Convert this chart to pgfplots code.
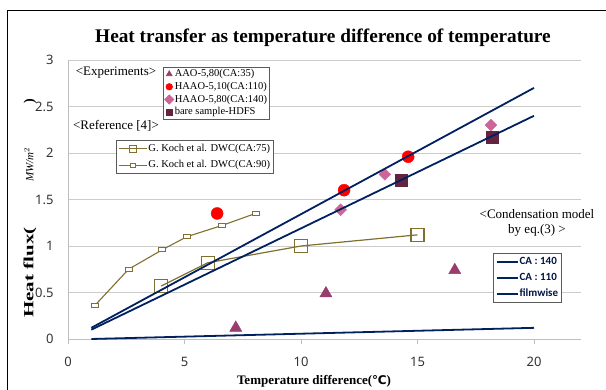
\documentclass[border=0pt]{standalone}
\usepackage{fontspec}
\setmainfont{Liberation Serif}
\newfontfamily\ticksfont{Noto Sans}
\newfontfamily\legsans{Carlito}
\newfontfamily\dejavu{DejaVu Sans}
\usepackage{pgfplots}
\pgfplotsset{compat=1.18}
\definecolor{navy}{RGB}{0,32,96}
\definecolor{olive}{RGB}{128,112,48}
\definecolor{tri}{RGB}{153,60,110}
\definecolor{dia}{RGB}{204,102,153}
\definecolor{sqc}{RGB}{100,35,65}
\definecolor{gridgray}{RGB}{204,204,204}
\definecolor{axisgray}{RGB}{190,190,190}
\definecolor{legframe}{RGB}{90,90,90}
\pgfplotsset{
  base/.style={scale only axis, width=512.6pt, height=279pt, at={(68pt,51pt)}, anchor=south west,
    xmin=0, xmax=22, ymin=0, ymax=3, clip=false},
}
\begin{document}
\begin{tikzpicture}[x=1pt,y=1pt]
\useasboundingbox (0,0) rectangle (606,390);
\draw[black, line width=0.9pt] (7,0) -- (7,380) -- (606,380);
% main axis with experiments
\begin{axis}[base,
  axis x line*=bottom, axis y line*=left,
  axis line style={draw=axisgray, line width=0.8pt},
  xtick={0,5,10,15,20}, ytick={0,0.5,...,3},
  ymajorgrids, grid style={draw=gridgray, line width=0.8pt},
  tick align=outside, major tick length=5pt,
  xtick style={draw=axisgray, line width=0.8pt}, ytick style={draw=none},
  /pgf/number format/assume math mode=true,
  ticklabel style={font=\ticksfont\fontsize{13}{13}\selectfont, text=black!80},
  xticklabel style={yshift=-10pt},
  yticklabel style={xshift=-6pt},
  legend style={at={(0.185,0.975)}, anchor=north west, draw=legframe, line width=0.8pt,
    font=\fontsize{10.5}{11}\selectfont, row sep=1.2pt, inner xsep=1.5pt, inner ysep=1pt,
    nodes={inner sep=1pt, text height=7.5pt, text depth=2pt}},
  legend cell align=left,
  legend image code/.code={\draw[#1, mark size=3.2pt] plot coordinates {(3pt,0pt)};},
]
\addplot[only marks, mark=triangle*, mark size=7pt, color=tri] coordinates {(7.2,0.12) (11.07,0.49) (16.6,0.74)};
\addlegendentry{AAO-5,80(CA:35)}
\addplot[only marks, mark=*, mark size=6pt, color=red] coordinates {(6.4,1.35) (11.85,1.6) (14.6,1.96)};
\addlegendentry{HAAO-5,10(CA:110)}
\addplot[only marks, mark=square*, mark size=4.2pt, color=dia, mark options={rotate=45}] coordinates {(11.7,1.39) (13.6,1.77) (18.15,2.3)};
\addlegendentry{HAAO-5,80(CA:140)}
\addplot[only marks, mark=square*, mark size=6pt, color=sqc] coordinates {(14.3,1.71) (18.2,2.17)};
\addlegendentry{bare sample-HDFS}
\end{axis}
% Koch reference
\begin{axis}[base, hide axis,
  legend style={at={(0.0936,0.713)}, anchor=north west, draw=legframe, line width=0.8pt,
    font=\fontsize{10.5}{11}\selectfont, row sep=5pt, inner xsep=2pt, inner ysep=2.5pt,
    nodes={inner sep=1pt, text height=7.5pt, text depth=2pt}},
  legend cell align=left,
  legend image code/.code={\draw[mark repeat=2, mark phase=2, #1] plot coordinates {(0pt,0pt) (14pt,0pt) (28pt,0pt)};},
]
\addplot[forget plot, color=olive, line width=1.2pt, mark=square, mark size=6.5pt, mark options={line width=1.2pt}] coordinates {(4,0.57) (6,0.82) (10,1.0) (15,1.12)};
\addplot[forget plot, color=olive, line width=1.1pt, mark=square*, mark size=2.2pt, mark options={xscale=1.6, fill=white, line width=0.9pt}] coordinates {(1.15,0.36) (2.6,0.75) (4.05,0.96) (5.1,1.1) (6.6,1.22) (8.05,1.35)};
\addlegendimage{color=olive, line width=1.1pt, mark=square, mark size=3.5pt, mark options={line width=1pt}}
\addlegendentry{G. Koch et al. DWC(CA:75)}
\addlegendimage{color=olive, line width=1.1pt, mark=square*, mark size=1.8pt, mark options={xscale=1.6, fill=white, line width=0.8pt}}
\addlegendentry{G. Koch et al. DWC(CA:90)}
\end{axis}
% condensation model
\begin{axis}[base, hide axis,
  legend style={at={(0.829,0.308)}, anchor=north west, draw=legframe, line width=0.8pt,
    font=\legsans\bfseries\fontsize{11}{12}\selectfont, text=navy!70!black, row sep=5.5pt, inner xsep=3pt, inner ysep=3pt,
    nodes={inner sep=0.5pt, text height=7.5pt, text depth=2pt}},
  legend cell align=left,
  legend image code/.code={\draw[#1] (0pt,0pt) -- (21pt,0pt);},
]
\addplot[color=navy, line width=1.8pt] coordinates {(1,0.12) (20,2.7)};
\addlegendentry{CA : 140}
\addplot[color=navy, line width=1.8pt] coordinates {(1,0.10) (20,2.4)};
\addlegendentry{CA : 110}
\addplot[color=navy, line width=1.8pt] coordinates {(1,0.0) (20,0.12)};
\addlegendentry{filmwise}
\end{axis}
% texts
\node[font=\bfseries\fontsize{19.3}{19.3}\selectfont] at (323,352) {Heat transfer as temperature difference of temperature};
\node[font=\fontsize{13}{13}\selectfont] at (116,317) {<Experiments>};
\node[font=\fontsize{13}{13}\selectfont] at (116,264) {<Reference [4]>};
\node[font=\fontsize{13}{13}\selectfont] at (537,176) {<Condensation model};
\node[font=\fontsize{13}{13}\selectfont] at (537,160) {by eq.(3) >};
\node[font=\bfseries\fontsize{13}{13}\selectfont] at (314,9) {Temperature difference({\dejavu\fontsize{12}{12}\selectfont ℃})};
\node[rotate=90, anchor=west, font=\bfseries\fontsize{14}{14}\selectfont, inner sep=0pt] at (30,72) {\scalebox{1.5}[1]{Heat flux(}\hspace{46pt}{\normalfont\itshape\fontsize{11}{11}\selectfont MW/m$^{2}$}\hspace{44pt})};
\end{tikzpicture}
\end{document}
